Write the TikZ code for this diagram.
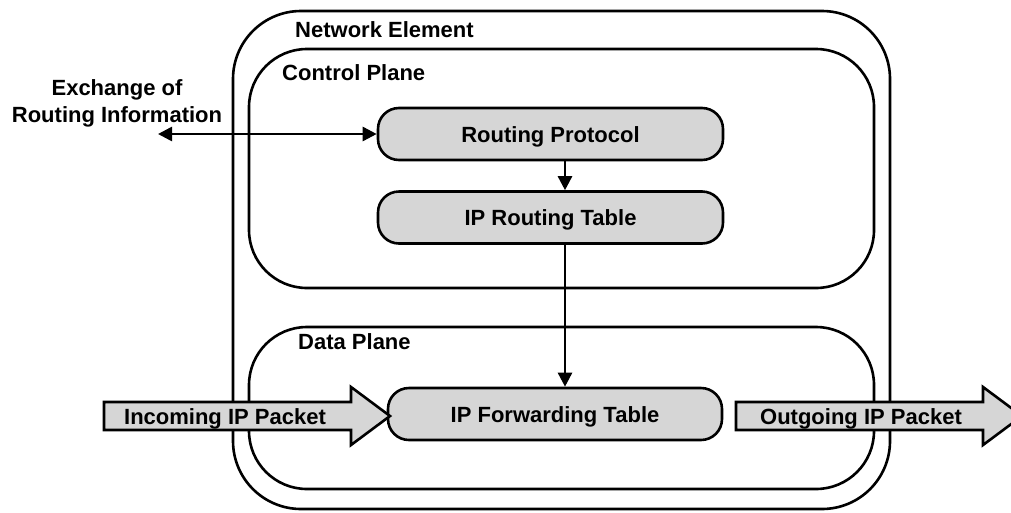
\documentclass[tikz,border=0pt]{standalone}
\usepackage{fontspec}
\setmainfont{Liberation Sans}
\usetikzlibrary{arrows.meta}
\definecolor{boxgray}{RGB}{214,214,214}
\begin{document}
\begin{tikzpicture}[x=1pt,y=-1pt,
  every node/.style={font=\fontsize{22}{27}\selectfont\bfseries},
  frame/.style={draw,line width=2.6pt,rectangle,inner sep=0pt},
  procbox/.style={draw,line width=2.6pt,fill=boxgray,rounded corners=21pt,inner sep=0pt,text height=16pt,text depth=0pt,minimum width=345pt,minimum height=52pt},
  bigarrow/.style={draw,line width=2.6pt,fill=boxgray,line join=miter},
  arrowtext/.style={inner sep=0pt,text height=16pt,text depth=0pt},
  conn/.style={line width=2.6pt,-{Triangle[length=14pt,width=14pt]}},
  lbl/.style={anchor=base west,inner sep=0pt}]
\useasboundingbox (0,0) rectangle (1011,512);
% containers
\node[frame,rounded corners=68pt,minimum width=657pt,minimum height=498pt] (ne) at (561.5,260) {};
\node[frame,rounded corners=58pt,minimum width=625pt,minimum height=239pt] (cp) at (561.5,168.5) {};
\node[frame,rounded corners=58pt,minimum width=625pt,minimum height=162pt] (dp) at (561.5,408) {};
\node[lbl] (nel) at (295,37) {Network Element};
\node[lbl] (cpl) at (282,80) {Control Plane};
\node[lbl] (dpl) at (298,349) {Data Plane};
% boxes
\node[procbox] (rp) at (550.5,134) {Routing Protocol};
\node[procbox] (rt) at (550.5,217.5) {IP Routing Table};
\node[procbox,minimum width=334pt] (ft) at (555,414) {IP Forwarding Table};
% big arrows
\draw[bigarrow] (104,402) -- (351,402) -- (351,387) -- (390,416) -- (351,445) -- (351,430) -- (104,430) -- cycle;
\node[arrowtext] (inl) at (225,416) {Incoming IP Packet};
\draw[bigarrow] (736,402) -- (983,402) -- (983,387) -- (1022,416) -- (983,445) -- (983,430) -- (736,430) -- cycle;
\node[arrowtext] (outl) at (861,416) {Outgoing IP Packet};
% exchange
\node[align=center,inner sep=0pt] (ex) at (117,103) {Exchange of\\Routing Information};
\coordinate (exl) at (158,134);
\draw[line width=2.6pt,{Triangle[length=14pt,width=14pt]}-{Triangle[length=14pt,width=14pt]}] (exl) -- (rp.west);
% connectors
\draw[conn] (rp.south -| 565,0) -- (rt.north -| 565,0);
\draw[conn] (rt.south -| 565,0) -- (ft.north -| 565,0);
\end{tikzpicture}
\end{document}
